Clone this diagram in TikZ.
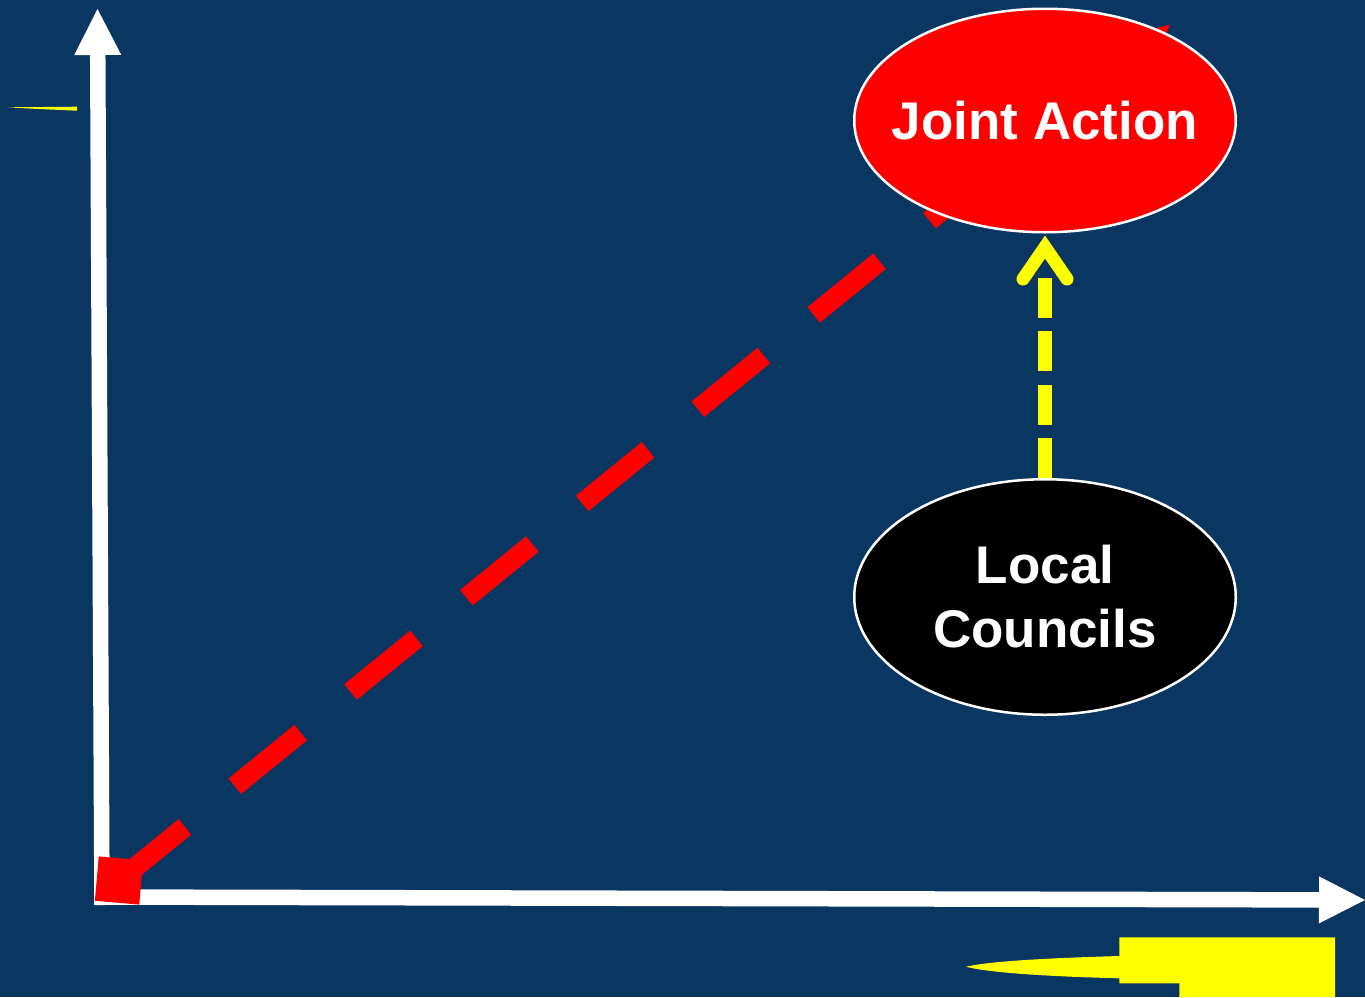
\documentclass[tikz,border=0pt]{standalone}
\usepackage{fontspec}
\setmainfont{Liberation Sans}
\usetikzlibrary{arrows.meta,shapes.geometric}
\definecolor{navy}{RGB}{10,54,98}
\definecolor{pred}{RGB}{255,0,0}
\definecolor{pyellow}{RGB}{255,255,0}
\begin{document}
\begin{tikzpicture}[x=1pt,y=-1pt,
  axisline/.style={draw=white,line width=15.5pt,-{Triangle[length=46pt,width=47pt,line width=0pt]}},
  redarrow/.style={draw=pred,line width=20pt,dash pattern=on 85pt off 64.3pt,-{Triangle[length=60pt,width=60pt,line width=0pt]}},
  bubble/.style={ellipse,draw=white,line width=2.5pt,inner sep=0pt,text=white,font=\bfseries\fontsize{53}{64}\selectfont,align=center},
  ydash/.style={draw=pyellow,line width=13.7pt,dash pattern=on 40pt off 13.33pt},
  chevron/.style={draw=pyellow,line width=13pt,line cap=round,line join=miter},
  marker/.style={fill=pred,inner sep=0pt,minimum size=44.5pt,rotate=-5},
  sliver/.style={fill=pyellow}
]
\useasboundingbox (0,0) rectangle (1365,997);
\fill[navy] (0,0) rectangle (1365,997);

% axes
\coordinate (ybot) at (102,905);
\coordinate (ytip) at (97.5,9);
\coordinate (xleft) at (95,897);
\coordinate (xtip) at (1365,900);
\draw[axisline] (ybot) -- (ytip);
\draw[axisline] (xleft) -- (xtip);

% red dashed arrow
\coordinate (o) at (119,880.5);
\coordinate (rtip) at (1170,24.8);
\draw[redarrow] (o) -- (rtip);
\node[marker] (sq) at (o) {};

% ellipses
\node[bubble,fill=pred,minimum width=381.5pt,minimum height=223.5pt] (ja) at (1045,120.5) {\makebox[0pt]{Joint Action}};
\node[bubble,fill=black,minimum width=381.5pt,minimum height=235.5pt] (lc) at (1045,597) {\raisebox{-3pt}{\makebox[0pt]{Local}}\\\raisebox{-3pt}{\makebox[0pt]{Councils}}};

% yellow dashed arrow
\coordinate (shaftend) at (1045,277.3);
\draw[ydash] (lc.north) -- (shaftend);
\coordinate (chl) at (1023,279);
\coordinate (cht) at (1045,247);
\coordinate (chr) at (1067,279);
\draw[chevron] (chl) -- (cht) -- (chr);

% yellow slivers
\fill[sliver] (8,107.3) -- (77,106.7) -- (77,110.7) .. controls (50,109.5) and (20,108.2) .. cycle;
\fill[sliver] (966,966.7) .. controls (990,961) and (1050,958) .. (1119.3,956) -- (1119.3,937.3) -- (1335,937.3) -- (1335,997) -- (1179.3,997) -- (1179.3,983.3) -- (1119.3,983.3) -- (1119.3,978.3) .. controls (1050,976.5) and (990,973) .. cycle;
\end{tikzpicture}
\end{document}
